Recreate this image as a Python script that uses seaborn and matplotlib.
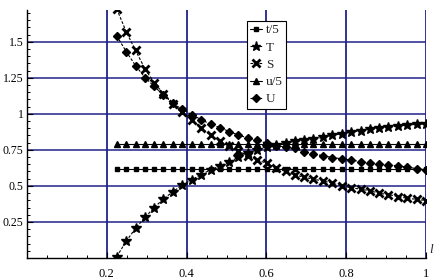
import matplotlib
matplotlib.use("Agg")
import matplotlib.pyplot as plt
import seaborn as sns
import numpy as np
from matplotlib.ticker import MultipleLocator

sns.set_style("white")
plt.rcParams['font.family'] = ['Liberation Serif', 'DejaVu Serif']

x = [0.225, 0.249, 0.272, 0.296, 0.319, 0.342, 0.366, 0.389, 0.413, 0.436,
     0.460, 0.483, 0.507, 0.530, 0.554, 0.577, 0.601, 0.624, 0.648, 0.671,
     0.695, 0.718, 0.742, 0.765, 0.789, 0.812, 0.836, 0.859, 0.883, 0.906,
     0.930, 0.953, 0.977, 1.000]

t5 = [0.615] * 34
u5 = [0.79] * 34
T = [0.01, 0.118, 0.206, 0.283, 0.35, 0.41, 0.46, 0.507, 0.543, 0.578,
     0.611, 0.639, 0.665, 0.70, 0.727, 0.75, 0.773, 0.785, 0.80, 0.808,
     0.815, 0.823, 0.836, 0.85, 0.862, 0.874, 0.883, 0.893, 0.90, 0.907,
     0.915, 0.922, 0.927, 0.93]
S = [1.727, 1.567, 1.44, 1.31, 1.215, 1.14, 1.07, 1.01, 0.955, 0.905,
     0.85, 0.81, 0.775, 0.74, 0.71, 0.68, 0.657, 0.623, 0.60, 0.576,
     0.56, 0.546, 0.535, 0.519, 0.50, 0.488, 0.477, 0.467, 0.449, 0.44,
     0.426, 0.414, 0.407, 0.398]
U = [1.54, 1.43, 1.335, 1.25, 1.19, 1.13, 1.074, 1.03, 0.995, 0.96,
     0.928, 0.905, 0.877, 0.854, 0.831, 0.815, 0.796, 0.78, 0.77, 0.76,
     0.738, 0.72, 0.71, 0.697, 0.688, 0.68, 0.669, 0.66, 0.653, 0.645,
     0.639, 0.63, 0.62, 0.611]

labels = ["t/5", "T", "S", "u/5", "U"]
xticks = [0.2, 0.4, 0.6, 0.8, 1.0]
xticklabels = ["0.2", "0.4", "0.6", "0.8", "1"]
yticks = [0.25, 0.5, 0.75, 1.0, 1.25, 1.5]
yticklabels = ["0.25", "0.5", "0.75", "1", "1.25", "1.5"]

fig = plt.figure(figsize=(4.36, 2.79), dpi=100)
ax = fig.add_axes([27/436, 21/279, 399/436, 248/279])

grid_c = '#22228a'
for v in xticks:
    ax.axvline(v, color=grid_c, lw=1.3, zorder=0)
for v in yticks:
    ax.axhline(v, color=grid_c, lw=1.1, zorder=0)

dash = (0, (2.5, 1.5))
specs = [
    (t5, 's', 3.5, '-', 1.0),
    (T, '*', 7.5, dash, 1.0),
    (S, 'x', 6.0, dash, 2.0),
    (u5, '^', 5.0, '-', 1.0),
    (U, 'D', 4.5, dash, 1.0),
]
for (vals, mk, ms, ls, mew), lab in zip(specs, labels):
    sns.lineplot(x=x, y=vals, ax=ax, color='black', marker=mk, markersize=ms,
                 markeredgewidth=mew, markeredgecolor='black',
                 linestyle=ls, linewidth=0.8, label=lab, zorder=3)

ax.set_xlim(0, 1.0)
ax.set_ylim(0, 1.72)
ax.set_xticks(xticks)
ax.set_xticklabels(xticklabels)
ax.set_yticks(yticks)
ax.set_yticklabels(yticklabels)
ax.xaxis.set_minor_locator(MultipleLocator(0.05))
ax.yaxis.set_minor_locator(MultipleLocator(0.05))
ax.tick_params(which='major', direction='in', length=4, width=0.8, labelsize=9, colors='black')
ax.tick_params(axis='y', which='major', pad=2.5, labelsize=8.5)
ax.tick_params(axis='x', which='major', pad=7)
ax.tick_params(which='minor', direction='in', length=2.5, width=0.7, colors='black')
ax.tick_params(left=True, bottom=True, which='both')
for sp in ['top', 'right']:
    ax.spines[sp].set_visible(False)
for sp in ['left', 'bottom']:
    ax.spines[sp].set_color('black')
    ax.spines[sp].set_linewidth(1.0)

ax.text(1.008, 0.01, 'l', transform=ax.transAxes, fontstyle='italic',
        fontsize=9.5, ha='left', va='bottom')

leg = ax.legend(loc='upper left', bbox_to_anchor=(0.551, 0.956), borderaxespad=0,
                fontsize=9.5, frameon=True, fancybox=False, framealpha=1,
                edgecolor='black', handlelength=0.9, handletextpad=0.3,
                labelspacing=0.38, borderpad=0.25, markerscale=0.9)
leg.get_frame().set_linewidth(0.8)

fig.savefig('out.png', dpi=100)
